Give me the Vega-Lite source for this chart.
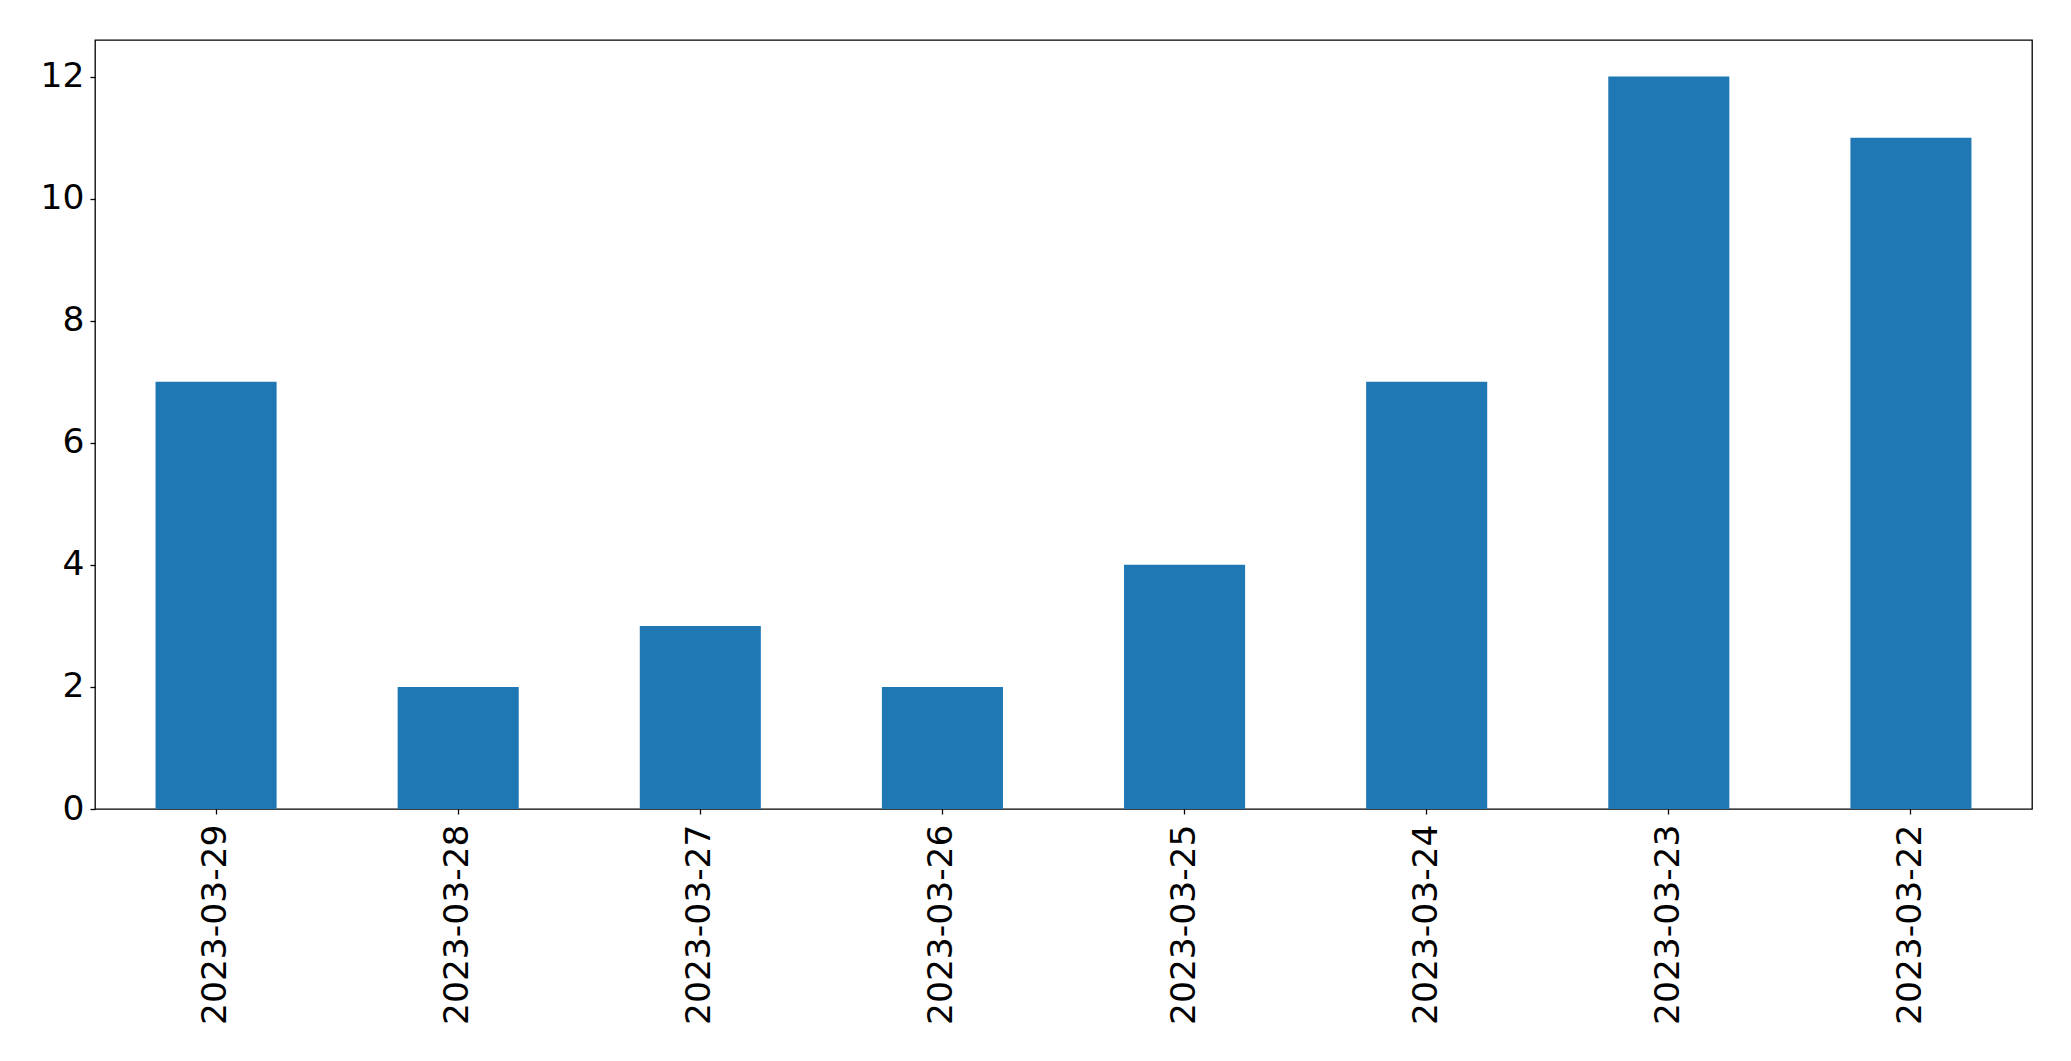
{
  "$schema": "https://vega.github.io/schema/vega-lite/v6.json",
  "autosize": {"type": "none"},
  "padding": {"left": 95, "top": 40, "right": 39, "bottom": 252},
  "width": 1937,
  "height": 769,
  "background": "white",
  "data": {"values": [
    {"date": "2023-03-29", "count": 7},
    {"date": "2023-03-28", "count": 2},
    {"date": "2023-03-27", "count": 3},
    {"date": "2023-03-26", "count": 2},
    {"date": "2023-03-25", "count": 4},
    {"date": "2023-03-24", "count": 7},
    {"date": "2023-03-23", "count": 12},
    {"date": "2023-03-22", "count": 11}
  ]},
  "mark": {"type": "bar", "color": "#1f77b4"},
  "encoding": {
    "x": {
      "field": "date", "type": "nominal", "sort": null,
      "scale": {"paddingInner": 0.5, "paddingOuter": 0.25},
      "axis": {"title": null, "labelAngle": -90, "labelFont": "DejaVu Sans", "labelFontSize": 34.5, "labelColor": "black", "labelLimit": 400, "tickColor": "black", "tickSize": 5, "tickWidth": 1.3, "domain": false, "labelPadding": 10, "grid": false}
    },
    "y": {
      "field": "count", "type": "quantitative",
      "scale": {"domain": [0, 12.6], "nice": false, "zero": true},
      "axis": {"title": null, "values": [0, 2, 4, 6, 8, 10, 12], "labelFont": "DejaVu Sans", "labelFontSize": 34.5, "labelColor": "black", "tickColor": "black", "tickSize": 5, "tickWidth": 1.3, "domain": false, "labelPadding": 6, "grid": false}
    }
  },
  "config": {"view": {"stroke": "black", "strokeWidth": 1.3}}
}
